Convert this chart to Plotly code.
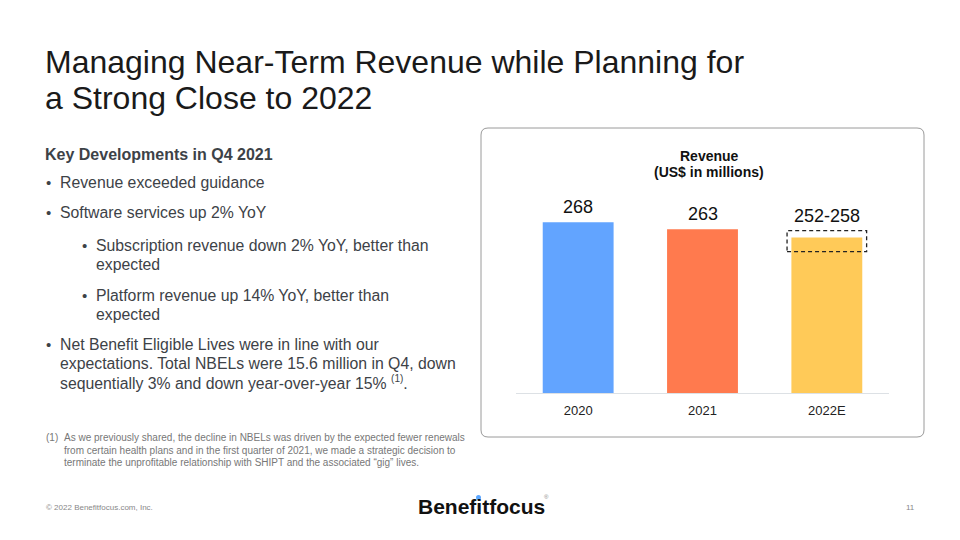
import plotly.graph_objects as go

# ---- data ----
categories = ["2020", "2021", "2022E"]
revenue = [268, 263, 257]
value_labels = ["268", "263", "252-258"]
guidance_range = [252, 258]
bar_colors = ["#62A4FF", "#FF7A4E", "#FFCA58"]

W, H = 960, 540
def px(x):
    return x / W
def py(y):
    return 1 - y / H

FONT = "Arial, Liberation Sans, sans-serif"
TXT = "#3d4247"

fig = go.Figure()
fig.add_trace(go.Bar(
    x=categories, y=revenue, marker=dict(color=bar_colors, line=dict(width=0)),
    width=0.57, hoverinfo="skip", showlegend=False,
))

# y-axis: baseline at 146 so bars look as on slide
y_min = 146
k = 1.4  # px per unit
plot_top, plot_bot = 190, 393
y_max = y_min + (plot_bot - plot_top) / k

fig.update_layout(
    width=W, height=H, margin=dict(l=0, r=0, t=0, b=0),
    paper_bgcolor="white", plot_bgcolor="rgba(0,0,0,0)",
    xaxis=dict(type="category", domain=[px(516), px(889)], showgrid=False, zeroline=False,
               showline=True, linecolor="#dde1e5", linewidth=1,
               ticks="", ticklabelstandoff=5,
               tickfont=dict(family=FONT, size=13, color="#222"),
               fixedrange=True, range=[-0.5, 2.5]),
    yaxis=dict(domain=[py(plot_bot), py(plot_top)], range=[y_min, y_max],
               visible=False, fixedrange=True),
    bargap=0.43,
)

# dashed guidance box
fig.add_shape(type="rect", xref="x", yref="y",
              x0=2 - 0.32, x1=2 + 0.32,
              y0=guidance_range[0] - 5, y1=guidance_range[1] + 4,
              line=dict(color="#222", width=1.3, dash="4px,3px"), fillcolor="rgba(0,0,0,0)")

ann = []
# value labels
for i, (v, lab) in enumerate(zip(revenue, value_labels)):
    top = guidance_range[1] + 4 if i == 2 else v
    ann.append(dict(x=i, y=top, xref="x", yref="y", text=lab, showarrow=False,
                    yanchor="bottom", yshift=3,
                    font=dict(family=FONT, size=18, color="#111")))

# chart title
ann.append(dict(x=px(709), y=py(156), xref="paper", yref="paper", text="<b>Revenue</b>",
                showarrow=False, xanchor="center", yanchor="middle",
                font=dict(family=FONT, size=14, color="#111")))
ann.append(dict(x=px(709), y=py(172), xref="paper", yref="paper", text="<b>(US$ in millions)</b>",
                showarrow=False, xanchor="center", yanchor="middle",
                font=dict(family=FONT, size=14, color="#111")))

# rounded chart frame
x0, y0, x1, y1, r = px(481), py(128), px(924), py(437), 7
rx, ry = r / W, r / H
path = (f"M {x0+rx},{y0} L {x1-rx},{y0} Q {x1},{y0} {x1},{y0-ry} "
        f"L {x1},{y1+ry} Q {x1},{y1} {x1-rx},{y1} L {x0+rx},{y1} "
        f"Q {x0},{y1} {x0},{y1+ry} L {x0},{y0-ry} Q {x0},{y0} {x0+rx},{y0} Z")
fig.add_shape(type="path", xref="paper", yref="paper", path=path,
              line=dict(color="#9a9a9a", width=1), fillcolor="rgba(0,0,0,0)", layer="below")

def text(x, y, s, size, color=TXT, anchor="left"):
    ann.append(dict(x=px(x), y=py(y), xref="paper", yref="paper", text=s, showarrow=False,
                    xanchor=anchor, yanchor="middle", align="left",
                    font=dict(family=FONT, size=size, color=color)))

# slide title
text(43, 62, "Managing Near-Term Revenue while Planning for", 32, "#1a1a1a")
text(43, 98, "a Strong Close to 2022", 32, "#1a1a1a")

# body
text(43, 155, "<b>Key Developments in Q4 2021</b>", 16)
bullets = [
    (45, 58, [(182, "Revenue exceeded guidance")]),
    (45, 58, [(213, "Software services up 2% YoY")]),
    (81, 94, [(245, "Subscription revenue down 2% YoY, better than"), (264, "expected")]),
    (81, 94, [(295, "Platform revenue up 14% YoY, better than"), (314, "expected")]),
    (45, 58, [(344, "Net Benefit Eligible Lives were in line with our"),
              (363, "expectations. Total NBELs were 15.6 million in Q4, down"),
              (382, "sequentially 3% and down year-over-year 15% "
                    "<sup><span style='font-size:10px'>(1)</span></sup>.")]),
]
for bx, tx, lines in bullets:
    text(bx - 1, lines[0][0], "•", 15)
    for yy, s in lines:
        text(tx, yy, s, 15.8)

# footnote
FN = "#777"
text(44, 437, "(1)", 10, FN)
text(62, 437, "As we previously shared, the decline in NBELs was driven by the expected fewer renewals", 10, FN)
text(62, 450, "from certain health plans and in the first quarter of 2021, we made a strategic decision to", 10, FN)
text(62, 462, "terminate the unprofitable relationship with SHIPT and the associated \u201cgig\u201d lives.", 10, FN)

# footer
text(44, 507, "\u00a9 2022 Benefitfocus.com, Inc.", 8, "#888")
text(416, 506, "<b>Benefitfocus</b>", 21, "#111")
text(542, 497, "\u00ae", 6, "#888")
text(917, 507, "11", 8, "#888", anchor="right")

# blue dot on the logo's "i"
fig.add_shape(type="circle", xref="paper", yref="paper",
              x0=px(476), x1=px(481), y0=py(495), y1=py(500),
              line=dict(width=0), fillcolor="#5AA6FF")

fig.update_layout(annotations=ann)
fig.write_html("out.html", post_script="document.body.style.margin='0px';",
               config={"displayModeBar": False})
